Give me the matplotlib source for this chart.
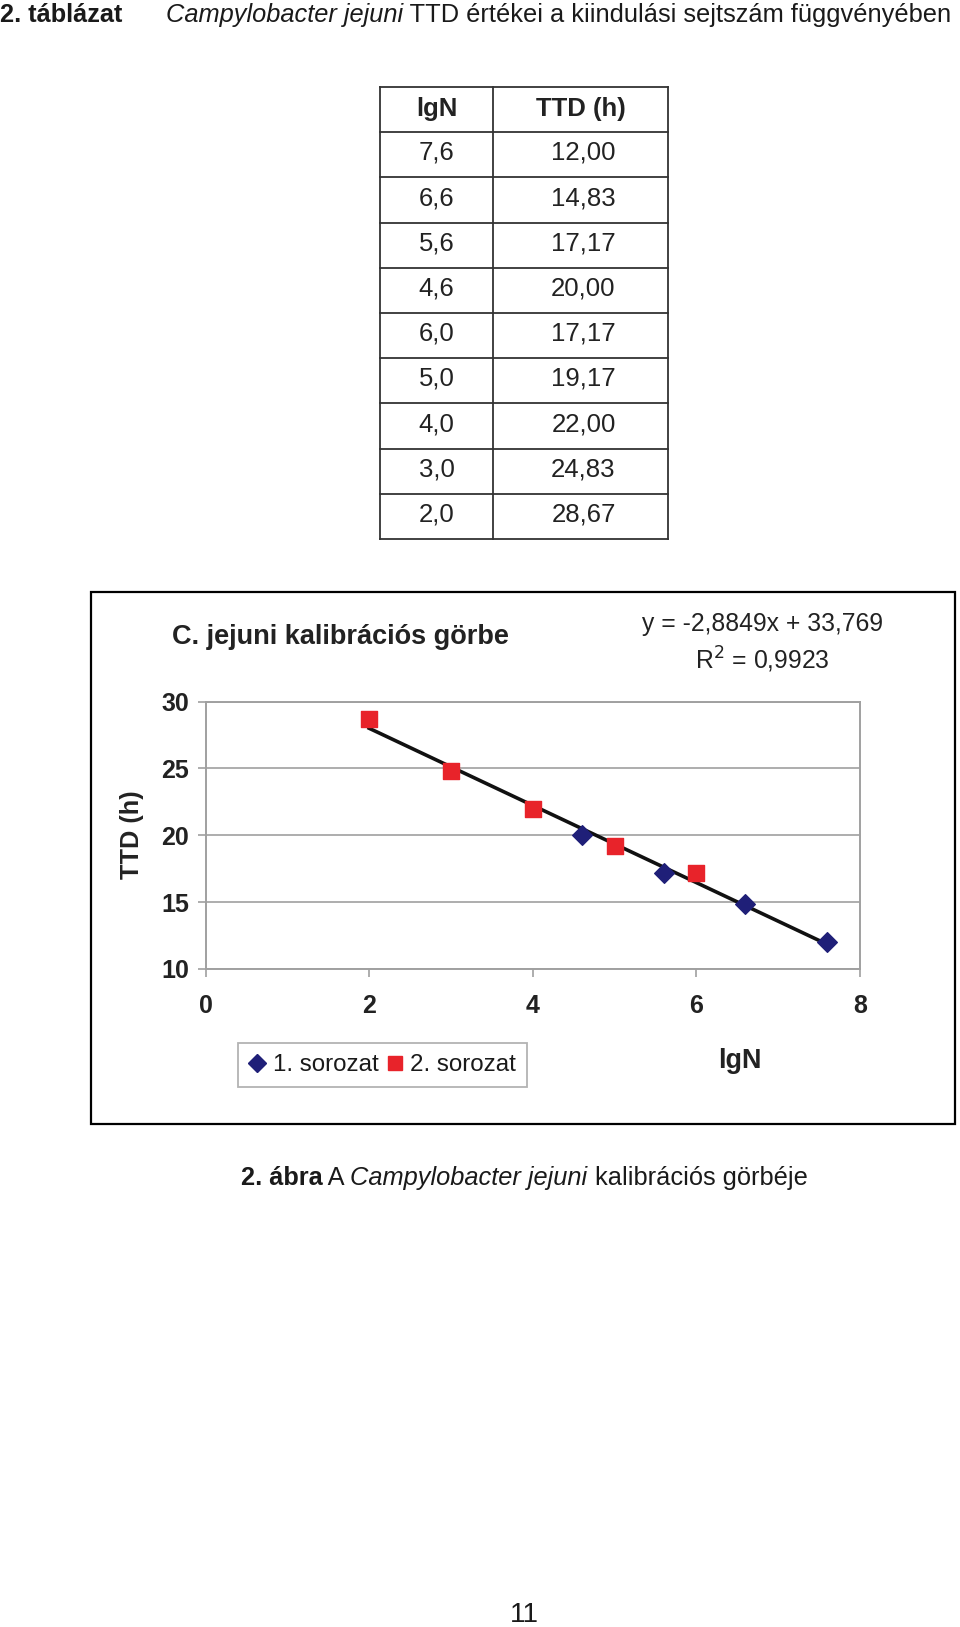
import numpy as np
import matplotlib.pyplot as plt
from matplotlib.patches import Rectangle
from matplotlib.lines import Line2D

plt.rcParams['font.family'] = ['Liberation Sans', 'DejaVu Sans']

# table / chart data
lgN_1 = [7.6, 6.6, 5.6, 4.6]
ttd_1 = [12.00, 14.83, 17.17, 20.00]
lgN_2 = [6.0, 5.0, 4.0, 3.0, 2.0]
ttd_2 = [17.17, 19.17, 22.00, 24.83, 28.67]
slope, intercept, r2 = -2.8849, 33.769, 0.9923
series_names = ["1. sorozat", "2. sorozat"]
y_ticks = [10, 15, 20, 25, 30]
x_ticks = [0, 2, 4, 6, 8]

W, H = 960, 1627
fig = plt.figure(figsize=(W / 100, H / 100), dpi=100)
renderer = fig.canvas.get_renderer()

# overlay in pixel coordinates for page text and table
page = fig.add_axes([0, 0, 1, 1])
page.set_xlim(0, W)
page.set_ylim(H, 0)
page.axis('off')


def runs(x, y, parts, size, center=None):
    """draw a line of text pieces with mixed styles one after another"""
    objs = []
    for txt, kw in parts:
        t = page.text(x, y, txt, fontsize=size, va='center', color='#1a1a1a', **kw)
        x += t.get_window_extent(renderer).width
        objs.append(t)
    if center is not None:
        shift = center - (objs[0].get_position()[0] + x) / 2
        for t in objs:
            px, py = t.get_position()
            t.set_position((px + shift, py))


runs(0, 15, [("2. táblázat", dict(fontweight='bold'))], 18.3)
runs(166, 15, [("Campylobacter jejuni", dict(style='italic')),
               (" TTD értékei a kiindulási sejtszám függvényében", {})], 18.3)

# table
tx0, tx1, tx2 = 380, 493, 668
ty0, row_h = 87, 45.2
rows = [(f"{x:.1f}".replace('.', ','), f"{y:.2f}".replace('.', ','))
        for x, y in zip(lgN_1 + lgN_2, ttd_1 + ttd_2)]
n = len(rows) + 1
for i in range(n + 1):
    page.plot([tx0, tx2], [ty0 + i * row_h] * 2, color='#333333', lw=1.3)
for xx in (tx0, tx1, tx2):
    page.plot([xx, xx], [ty0, ty0 + n * row_h], color='#333333', lw=1.3)
page.text((tx0 + tx1) / 2, ty0 + row_h / 2 - 1, "lgN", fontsize=18.5, fontweight='bold',
          ha='center', va='center', color='#222222')
page.text((tx1 + tx2) / 2, ty0 + row_h / 2 - 1, "TTD (h)", fontsize=18.5, fontweight='bold',
          ha='center', va='center', color='#222222')
for i, (a, b) in enumerate(rows):
    yy = ty0 + (i + 1.5) * row_h - 2
    page.text((tx0 + tx1) / 2, yy, a, fontsize=18.5, ha='center', va='center', color='#222222')
    page.text((tx1 + tx2) / 2 + 3, yy, b, fontsize=18.5, ha='center', va='center', color='#222222')

# chart frame
page.add_patch(Rectangle((91, 592), 864, 532, fill=False, ec='black', lw=1.6))
page.text(340, 637, "C. jejuni kalibrációs görbe", fontsize=19.5, fontweight='bold',
          ha='center', va='center', color='#222222')
page.text(762, 624, "y = -2,8849x + 33,769", fontsize=17.8, ha='center', va='center',
          color='#222222')
page.text(762, 660, "R$^2$ = 0,9923", fontsize=17.8, ha='center', va='center',
          color='#222222')
page.text(132, 835, "TTD (h)", fontsize=18.3, fontweight='bold', rotation=90,
          ha='center', va='center', color='#222222')
page.text(740, 1061, "lgN", fontsize=19.4, fontweight='bold', ha='center', va='center',
          color='#222222')

runs(0, 1178, [("2. ábra", dict(fontweight='bold')), (" A ", {}),
               ("Campylobacter jejuni", dict(style='italic')),
               (" kalibrációs görbéje", {})], 18.3, center=524)
page.text(524, 1615, "11", fontsize=20, ha='center', va='center', color='#1a1a1a')

# chart
ax = fig.add_axes([205.5 / W, 1 - 969 / H, (860 - 205.5) / W, (969 - 701.5) / H])
ax.set_xlim(0, 8)
ax.set_ylim(10, 30)
ax.set_xticks(x_ticks)
ax.set_yticks(y_ticks)
ax.yaxis.grid(True, color='#a0a0a0', lw=1.2)
ax.set_axisbelow(True)
for s in ax.spines.values():
    s.set_color('#a0a0a0')
    s.set_linewidth(1.4)
ax.tick_params(colors='#a0a0a0', length=6, width=1.2, labelcolor='#222222',
               labelsize=18)
ax.tick_params(axis='x', pad=12)
ax.tick_params(axis='y', pad=6)
for lab in ax.get_xticklabels() + ax.get_yticklabels():
    lab.set_fontweight('bold')

xt = np.array([min(lgN_2), max(lgN_1)])
ax.plot(xt, slope * xt + intercept, color='#111111', lw=2.6, zorder=2)
ax.scatter(lgN_1, ttd_1, marker='D', s=100, color='#1f1f78', zorder=3)
ax.scatter(lgN_2, ttd_2, marker='s', s=130, color='#e8232a', zorder=3)

handles = [Line2D([], [], marker='D', ls='', color='#1f1f78', markersize=9),
           Line2D([], [], marker='s', ls='', color='#e8232a', markersize=10)]
leg = fig.legend(handles, series_names, loc='center',
                 bbox_to_anchor=(382.5 / W, 1 - 1065 / H), ncol=2, fontsize=17.4,
                 frameon=True, fancybox=False, handlelength=0.7, handletextpad=0.3,
                 columnspacing=0.3, borderpad=0.45, borderaxespad=0)
for t in leg.get_texts():
    t.set_color('#1a1a1a')
leg.get_frame().set_edgecolor('#a0a0a0')
leg.get_frame().set_linewidth(1.3)

fig.savefig('out.png', dpi=100, facecolor='white')
